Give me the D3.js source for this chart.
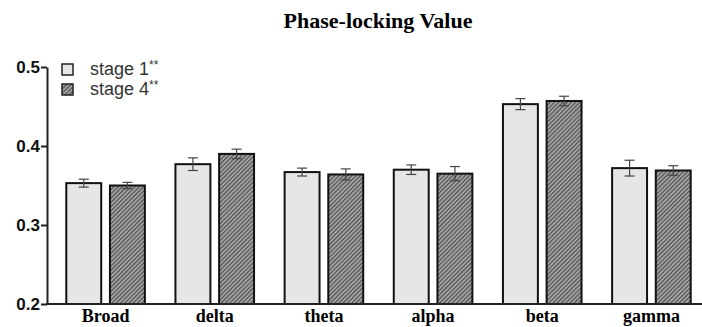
<!DOCTYPE html>
<html>
<head>
<meta charset="utf-8">
<script src="https://cdn.jsdelivr.net/npm/d3@7"></script>
<style>
  body { margin: 0; background: #fff; }
</style>
</head>
<body>
<svg></svg>
<script>
// Data
const bands = ["Broad", "delta", "theta", "alpha", "beta", "gamma"]
const stages = ["stage 1", "stage 4"]
const stage1 = [0.353, 0.377, 0.367, 0.370, 0.453, 0.372]
const stage4 = [0.350, 0.390, 0.364, 0.365, 0.457, 0.369]
const err1 = [0.005, 0.008, 0.005, 0.006, 0.007, 0.010]
const err4 = [0.004, 0.006, 0.007, 0.009, 0.006, 0.006]
const yTicks = [0.2, 0.3, 0.4, 0.5]

const width = 702
const height = 327

const svg = d3.select("svg")
    .attr("width", width)
    .attr("height", height)

const data = bands.map((b, i) => ({
    band: b,
    values: [
        { stage: stages[0], v: stage1[i], e: err1[i] },
        { stage: stages[1], v: stage4[i], e: err4[i] }
    ]
}))

// hatch pattern
const defs = svg.append("defs")
const pat = defs.append("pattern")
    .attr("id", "hatch")
    .attr("patternUnits", "userSpaceOnUse")
    .attr("width", 3)
    .attr("height", 3)
    .attr("patternTransform", "rotate(45)")
pat.append("rect").attr("width", 3).attr("height", 3).attr("fill", "#b0b0b0")
pat.append("rect").attr("width", 1.4).attr("height", 3).attr("fill", "#505050")

// Scales
const x0 = d3.scaleBand().domain(bands).range([51, 706]).paddingInner(0.28).paddingOuter(0.14)
const x1 = d3.scaleBand().domain(stages).range([0, x0.bandwidth()]).paddingInner(0.2)
const y = d3.scaleLinear().domain([0.2, 0.5]).range([304, 67])

// Title
svg.append("text")
    .attr("x", 378)
    .attr("y", 28)
    .attr("text-anchor", "middle")
    .attr("font-family", "Liberation Serif, Times New Roman, serif")
    .attr("font-weight", "bold")
    .attr("font-size", "22px")
    .text("Phase-locking Value")

// Bars
const groups = svg.selectAll(".grp").data(data).enter()
    .append("g")
    .attr("transform", d => `translate(${x0(d.band)},0)`)

groups.selectAll("rect").data(d => d.values).enter()
    .append("rect")
    .attr("x", d => x1(d.stage))
    .attr("y", d => y(d.v))
    .attr("width", x1.bandwidth())
    .attr("height", d => y(0.2) - y(d.v))
    .attr("fill", d => d.stage === stages[0] ? "#e6e6e6" : "url(#hatch)")
    .attr("stroke", "#111")
    .attr("stroke-width", 2)

// Error bars
const eb = groups.selectAll(".eb").data(d => d.values).enter()
    .append("g")
    .attr("stroke", "#444")
    .attr("stroke-width", 1.2)
eb.append("line")
    .attr("x1", d => x1(d.stage) + x1.bandwidth() / 2)
    .attr("x2", d => x1(d.stage) + x1.bandwidth() / 2)
    .attr("y1", d => y(d.v + d.e))
    .attr("y2", d => y(d.v - d.e))
eb.selectAll(".cap").data(d => [d.v + d.e, d.v - d.e].map(v => ({ stage: d.stage, v }))).enter()
    .append("line")
    .attr("x1", d => x1(d.stage) + x1.bandwidth() / 2 - 5)
    .attr("x2", d => x1(d.stage) + x1.bandwidth() / 2 + 5)
    .attr("y1", d => y(d.v))
    .attr("y2", d => y(d.v))

// Axes
const yAxis = d3.axisLeft(y).tickValues(yTicks).tickFormat(d3.format(".1f")).tickSize(6).tickSizeOuter(0)
const yAxisG = svg.append("g")
    .attr("transform", "translate(47,0)")
    .call(yAxis)
yAxisG.select(".domain").attr("stroke", "#222").attr("stroke-width", 2)
yAxisG.selectAll(".tick line").attr("stroke", "#222").attr("stroke-width", 2)
yAxisG.selectAll(".tick text")
    .attr("font-family", "Liberation Sans, Arial, sans-serif")
    .attr("font-weight", "bold")
    .attr("font-size", "17px")
    .attr("fill", "#111")
    .attr("x", -7)

svg.append("line")
    .attr("x1", 46).attr("x2", width)
    .attr("y1", y(0.2)).attr("y2", y(0.2))
    .attr("stroke", "#222").attr("stroke-width", 2)

svg.selectAll(".xlab").data(bands).enter()
    .append("text")
    .attr("x", d => x0(d) + x0.bandwidth() / 2)
    .attr("y", 322)
    .attr("text-anchor", "middle")
    .attr("font-family", "Liberation Serif, Times New Roman, serif")
    .attr("font-weight", "bold")
    .attr("font-size", "18px")
    .text(d => d)

// Legend
const legend = svg.selectAll(".leg").data(stages).enter()
    .append("g")
    .attr("transform", (d, i) => `translate(62,${64 + i * 20})`)
legend.append("rect")
    .attr("width", 11).attr("height", 11)
    .attr("fill", (d, i) => i === 0 ? "#e6e6e6" : "url(#hatch)")
    .attr("stroke", "#222").attr("stroke-width", 1.5)
const lt = legend.append("text")
    .attr("x", 28).attr("y", 11)
    .attr("font-family", "Liberation Sans, Arial, sans-serif")
    .attr("font-size", "18px")
    .attr("fill", "#333")
lt.append("tspan").text(d => d)
lt.append("tspan").attr("font-size", "12px").attr("dy", -6).text("**")
</script>
</body>
</html>
